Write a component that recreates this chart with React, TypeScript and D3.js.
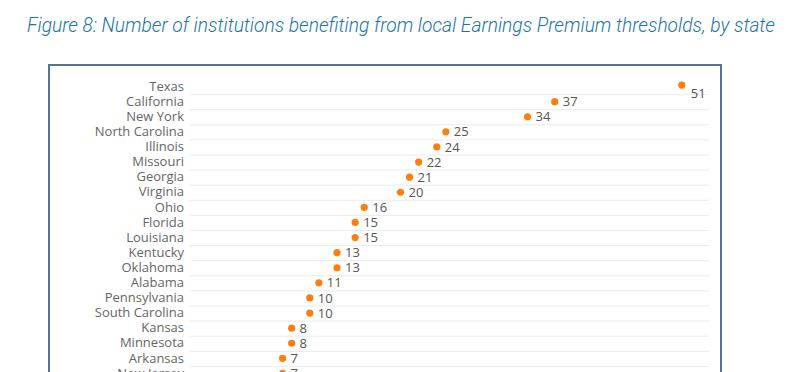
import * as d3 from 'd3';
import React, { useEffect, useRef } from 'react';

// states in chart order, top to bottom
const states: string[] = [
    'Texas', 'California', 'New York', 'North Carolina', 'Illinois',
    'Missouri', 'Georgia', 'Virginia', 'Ohio', 'Florida',
    'Louisiana', 'Kentucky', 'Oklahoma', 'Alabama', 'Pennsylvania',
    'South Carolina', 'Kansas', 'Minnesota', 'Arkansas', 'New Jersey'
];

// number of institutions benefiting
const institutions: number[] = [
    51, 37, 34, 25, 24,
    22, 21, 20, 16, 15,
    15, 13, 13, 11, 10,
    10, 8, 8, 7, 7
];

const title = 'Figure 8: Number of institutions benefiting from local Earnings Premium thresholds, by state';

const WIDTH = 800;
const HEIGHT = 372;

/**
 * Dot chart drawn with d3 through a ref.
 */
const DotChart = () => {
    const ref = useRef<SVGSVGElement>(null);

    useEffect(() => {
        const svg = d3.select(ref.current);
        svg.selectAll('*').remove();

        const data = states.map((s, i) => ({ state: s, value: institutions[i] }));

        const x = d3.scaleLinear()
            .domain([ -3.2, 54 ])
            .range([ 190, 709 ]);

        const y = d3.scaleBand<string>()
            .domain(states)
            .range([ 79, 79 + states.length * 15.1 ])
            .padding(0);

        svg.append('text')
            .attr('x', 401)
            .attr('y', 32)
            .attr('text-anchor', 'middle')
            .attr('textLength', 748)
            .attr('lengthAdjust', 'spacingAndGlyphs')
            .style('font-family', 'Roboto, sans-serif')
            .style('font-style', 'italic')
            .style('font-weight', 300)
            .style('font-size', '20px')
            .attr('fill', '#1a76aa')
            .text(title);

        // outer frame
        svg.append('rect')
            .attr('x', 49)
            .attr('y', 65)
            .attr('width', 672)
            .attr('height', 340)
            .attr('fill', 'none')
            .attr('stroke', '#557598')
            .attr('stroke-width', 2);

        // row dividers
        svg.append('g')
            .selectAll('line')
            .data(states)
            .enter()
            .append('line')
            .attr('x1', x.range()[0])
            .attr('x2', x.range()[1])
            .attr('y1', d => (y(d) as number) + y.bandwidth() + 0.5)
            .attr('y2', d => (y(d) as number) + y.bandwidth() + 0.5)
            .attr('stroke', '#ececec')
            .attr('stroke-width', 1);

        const yAxis = d3.axisLeft(y).tickSize(0).tickPadding(0);
        const axisG = svg.append('g')
            .attr('transform', 'translate(184, 0)')
            .call(yAxis);
        axisG.select('.domain').remove();
        axisG.selectAll('text')
            .style('font-family', '"Open Sans", sans-serif')
            .style('font-size', '13px')
            .attr('fill', '#666');

        const rows = svg.append('g')
            .selectAll('g')
            .data(data)
            .enter()
            .append('g')
            .attr('transform', d => `translate(0, ${(y(d.state) as number) + y.bandwidth() / 2})`);

        // the top row's point sits a little high, label pushed down-right
        rows.append('circle')
            .attr('cx', d => x(d.value))
            .attr('cy', (_, i) => (i === 0 ? -1.5 : 0))
            .attr('r', 3.6)
            .attr('fill', '#ff7f0e');

        rows.append('text')
            .attr('x', d => x(d.value))
            .attr('dx', (_, i) => (i === 0 ? 9 : 8))
            .attr('dy', (_, i) => (i === 0 ? '0.9em' : '0.35em'))
            .style('font-family', '"Open Sans", sans-serif')
            .style('font-size', '13px')
            .attr('fill', '#555')
            .text(d => d.value);
    }, []);

    return <svg ref={ref} width={WIDTH} height={HEIGHT} style={{ display: 'block' }} />;
};

export default function App() {
    return (
        <div style={{ position: 'absolute', left: 0, top: 0 }}>
            <DotChart />
        </div>
    );
}
